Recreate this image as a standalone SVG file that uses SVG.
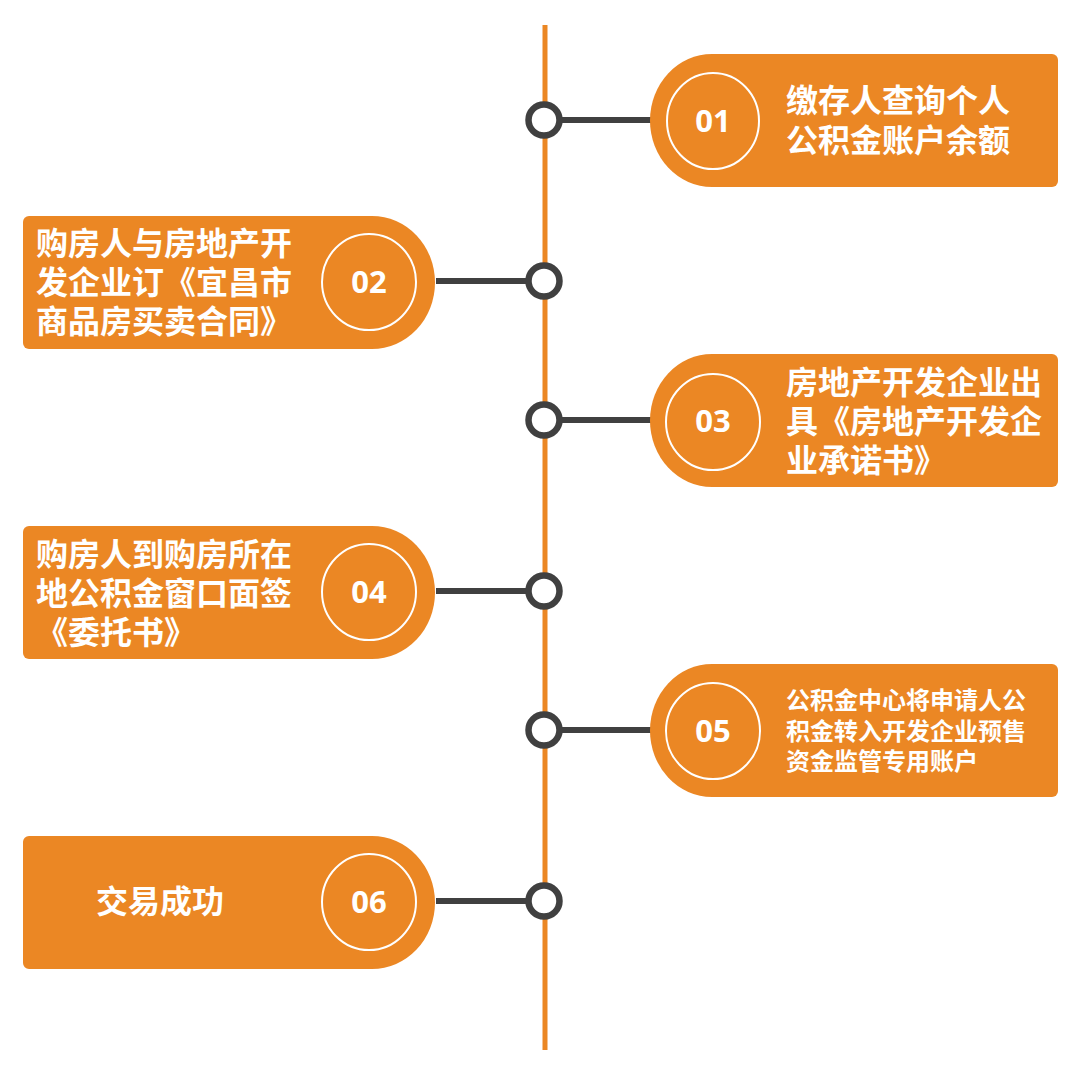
<svg xmlns="http://www.w3.org/2000/svg" width="1082" height="1075" viewBox="0 0 1082 1075">
<style>
.box{fill:#EB8724}
.ring{fill:none;stroke:#FFFFFF;stroke-width:2}
.num{font-family:"Open Sans","Liberation Sans",sans-serif;font-weight:bold;font-size:31px;fill:#FFFFFF;text-anchor:middle}
.t{font-family:"Noto Sans CJK SC","Noto Sans",sans-serif;font-weight:bold;font-size:32px;fill:#FFFFFF}
.ts{font-family:"Noto Sans CJK SC","Noto Sans",sans-serif;font-weight:bold;font-size:24px;fill:#FFFFFF}
.axis{stroke:#EB8724;stroke-width:5}
.link{stroke:#404040;stroke-width:6}
.dot{fill:#FFFFFF;stroke:#404040;stroke-width:6.5}
</style>
<rect width="1082" height="1075" fill="#FFFFFF"/>
<g id="connectors">
<line class="axis" x1="545" y1="25" x2="545" y2="1050"/>
<line class="link" x1="544" y1="120" x2="652" y2="120"/>
<line class="link" x1="436" y1="281" x2="544" y2="281"/>
<line class="link" x1="544" y1="420" x2="652" y2="420"/>
<line class="link" x1="436" y1="591" x2="544" y2="591"/>
<line class="link" x1="544" y1="730" x2="652" y2="730"/>
<line class="link" x1="436" y1="901" x2="544" y2="901"/>
<circle class="dot" cx="544" cy="120" r="15.5"/>
<circle class="dot" cx="544" cy="281" r="15.5"/>
<circle class="dot" cx="544" cy="420" r="15.5"/>
<circle class="dot" cx="544" cy="591" r="15.5"/>
<circle class="dot" cx="544" cy="730" r="15.5"/>
<circle class="dot" cx="544" cy="901" r="15.5"/>
</g>
<g id="node01">
<path class="box" d="M712,54 H1052 A6,6 0 0 1 1058,60 V181 A6,6 0 0 1 1052,187 H712 A62,66.5 0 0 1 712,54 Z"/>
<ellipse class="ring" cx="713" cy="121" rx="46" ry="48"/>
<text class="num" x="713" y="132">01</text>
<text class="t" x="786" y="112">缴存人查询个人</text>
<text class="t" x="786" y="152">公积金账户余额</text>
</g>
<g id="node02">
<path class="box" d="M29,216 H372 A63,66.5 0 0 1 372,349 H29 A6,6 0 0 1 23,343 V222 A6,6 0 0 1 29,216 Z"/>
<ellipse class="ring" cx="369" cy="282" rx="47" ry="48"/>
<text class="num" x="369" y="293">02</text>
<text class="t" x="36" y="255">购房人与房地产开</text>
<text class="t" x="36" y="294">发企业订《宜昌市</text>
<text class="t" x="36" y="333">商品房买卖合同》</text>
</g>
<g id="node03">
<path class="box" d="M712,354 H1052 A6,6 0 0 1 1058,360 V481 A6,6 0 0 1 1052,487 H712 A62,66.5 0 0 1 712,354 Z"/>
<ellipse class="ring" cx="713" cy="422" rx="47" ry="48"/>
<text class="num" x="713" y="432">03</text>
<text class="t" x="786" y="394">房地产开发企业出</text>
<text class="t" x="786" y="433">具《房地产开发企</text>
<text class="t" x="786" y="472">业承诺书》</text>
</g>
<g id="node04">
<path class="box" d="M29,526 H372 A63,66.5 0 0 1 372,659 H29 A6,6 0 0 1 23,653 V532 A6,6 0 0 1 29,526 Z"/>
<ellipse class="ring" cx="369" cy="592" rx="47" ry="48"/>
<text class="num" x="369" y="603">04</text>
<text class="t" x="36" y="566">购房人到购房所在</text>
<text class="t" x="36" y="605">地公积金窗口面签</text>
<text class="t" x="36" y="644">《委托书》</text>
</g>
<g id="node05">
<path class="box" d="M712,664 H1052 A6,6 0 0 1 1058,670 V791 A6,6 0 0 1 1052,797 H712 A62,66.5 0 0 1 712,664 Z"/>
<ellipse class="ring" cx="713" cy="731" rx="47" ry="48"/>
<text class="num" x="713" y="742">05</text>
<text class="ts" x="786" y="709">公积金中心将申请人公</text>
<text class="ts" x="786" y="740">积金转入开发企业预售</text>
<text class="ts" x="786" y="770">资金监管专用账户</text>
</g>
<g id="node06">
<path class="box" d="M29,836 H372 A63,66.5 0 0 1 372,969 H29 A6,6 0 0 1 23,963 V842 A6,6 0 0 1 29,836 Z"/>
<ellipse class="ring" cx="369" cy="902" rx="47" ry="48"/>
<text class="num" x="369" y="913">06</text>
<text class="t" x="96" y="913">交易成功</text>
</g>
</svg>
